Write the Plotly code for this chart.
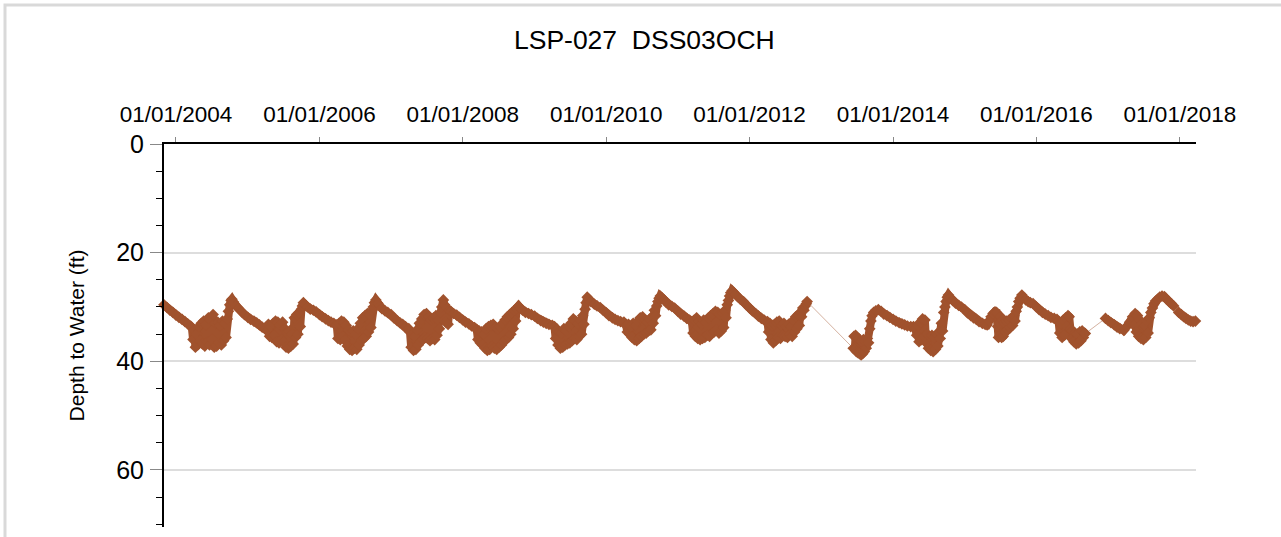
import plotly.graph_objects as go
from datetime import date

# ---------------- data ----------------
# depth to water (ft) by calendar year; dates given as MM-DD inside each year
MD_2003 = ["11-01", "11-16", "12-01", "12-16"]
FT_2003 = [29.6, 30.1, 30.6, 31.0]

MD_2004 = ["01-01", "01-16", "02-01", "02-16", "03-01", "03-16",
           "03-22", "03-28", "04-03", "04-09", "04-15", "04-21", "04-27", "05-03", "05-09", "05-15",
           "05-21", "05-27", "06-02", "06-08", "06-14", "06-20", "06-26", "07-02", "07-08", "07-14",
           "07-20", "07-26", "08-01", "08-07", "08-13", "08-19", "08-25", "08-31", "09-06", "09-12",
           "09-18", "09-24", "10-01", "10-08", "10-12",
           "10-20", "11-01", "11-15", "12-01", "12-15"]
FT_2004 = [31.5, 31.9, 32.3, 32.7, 33.1, 33.5,
           33.8, 36.0, 34.2, 37.4, 35.0, 37.0, 33.6, 36.2, 33.0, 36.8,
           32.6, 37.2, 33.2, 36.4, 32.0, 37.0, 32.4, 36.0, 31.4, 37.4,
           33.0, 37.2, 32.8, 36.6, 33.4, 37.0, 32.6, 36.2, 33.0, 35.6,
           32.2, 30.8, 29.6, 28.8, 28.6,
           29.1, 29.8, 30.3, 30.9, 31.4]

MD_2005 = ["01-01", "01-15", "02-01", "02-15", "03-01", "03-15", "04-01", "04-10",
           "04-16", "04-22", "04-28", "05-04", "05-10", "05-16", "05-22", "05-28", "06-03", "06-09",
           "06-15", "06-21", "06-27", "07-03", "07-09", "07-15", "07-21", "07-27", "08-02", "08-08",
           "08-14", "08-20", "08-26", "09-01", "09-07", "09-13", "09-19", "09-25", "10-01", "10-06",
           "10-11",
           "10-20", "11-01", "11-15", "12-01", "12-15"]
FT_2005 = [31.9, 32.3, 32.6, 32.9, 33.3, 33.7, 34.1, 34.4,
           33.2, 35.4, 33.6, 35.6, 33.0, 35.2, 32.6, 36.4, 32.8, 36.6,
           33.4, 36.0, 32.8, 36.4, 34.0, 37.4, 34.6, 37.6, 34.4, 37.2,
           35.0, 36.8, 32.0, 35.6, 31.4, 35.0, 31.0, 33.6, 30.4, 29.8,
           29.2,
           29.6, 30.0, 30.4, 30.6, 30.9]

MD_2006 = ["01-01", "01-15", "02-01", "02-15", "03-01", "03-15", "03-30",
           "04-05", "04-11", "04-17", "04-23", "04-29", "05-05", "05-11", "05-17", "05-23", "05-29",
           "06-04", "06-10", "06-16", "06-22", "06-28", "07-04", "07-10", "07-16", "07-22", "07-28",
           "08-03", "08-09", "08-15", "08-21", "08-27", "09-02", "09-08", "09-14", "09-20", "09-26",
           "10-02", "10-08", "10-15",
           "10-25", "11-05", "11-15", "12-01", "12-15"]
FT_2006 = [31.4, 31.8, 32.2, 32.5, 32.8, 33.0, 33.3,
           35.8, 33.0, 36.0, 32.6, 35.4, 32.8, 36.2, 33.4, 37.2, 34.2,
           37.8, 34.6, 38.0, 34.4, 37.6, 35.0, 37.8, 34.0, 37.0, 33.0,
           36.2, 32.0, 35.8, 31.6, 35.4, 31.2, 34.6, 31.4, 33.8, 30.6,
           30.0, 29.2, 28.7,
           29.3, 29.8, 30.3, 30.7, 31.0]

MD_2007 = ["01-01", "01-15", "02-01", "02-15", "03-01", "03-15", "04-01",
           "04-07", "04-13", "04-19", "04-25", "05-01", "05-07", "05-13", "05-19", "05-25", "05-31",
           "06-06", "06-12", "06-18", "06-24", "06-30", "07-06", "07-12", "07-18", "07-24", "07-30",
           "08-05", "08-11", "08-17", "08-23", "08-29", "09-04", "09-10", "09-16", "09-24", "09-30",
           "10-06", "10-12", "10-18", "10-24",
           "11-01", "11-15", "12-01", "12-15"]
FT_2007 = [31.4, 32.0, 32.5, 32.9, 33.2, 33.6, 34.0,
           34.6, 37.4, 35.0, 38.0, 35.4, 37.8, 34.2, 37.0, 33.0, 36.4,
           32.2, 36.0, 31.4, 35.6, 31.2, 35.8, 31.8, 36.2, 32.4, 35.8,
           32.0, 36.0, 31.6, 35.2, 32.4, 34.0, 31.0, 30.0, 28.7, 29.6,
           32.8, 30.2, 33.2, 30.6,
           30.8, 31.2, 31.5, 31.9]

MD_2008 = ["01-01", "01-15", "02-01", "02-15", "03-01", "03-12",
           "03-18", "03-24", "03-30", "04-05", "04-11", "04-17", "04-23", "04-29", "05-05", "05-11",
           "05-17", "05-23", "05-29", "06-04", "06-10", "06-16", "06-22", "06-28", "07-04", "07-10",
           "07-16", "07-22", "07-28", "08-03", "08-09", "08-15", "08-21", "08-27", "09-02", "09-08",
           "09-14", "09-20", "09-26", "10-02", "10-11",
           "10-20", "11-01", "11-15", "12-01", "12-15"]
FT_2008 = [32.4, 32.8, 33.1, 33.5, 33.8, 34.1,
           36.0, 34.4, 36.6, 34.6, 37.0, 35.0, 37.6, 34.0, 38.0, 33.6,
           37.8, 33.4, 37.2, 33.2, 37.6, 33.8, 37.8, 34.0, 37.4, 33.6,
           37.0, 33.0, 36.4, 32.4, 36.0, 31.8, 35.6, 31.4, 35.0, 31.0,
           34.0, 30.6, 32.6, 30.2, 29.8,
           30.2, 30.6, 31.0, 31.2, 31.4]

MD_2009 = ["01-01", "01-15", "02-01", "02-15", "03-01", "03-15", "04-01", "04-12",
           "04-18", "04-24", "04-30", "05-06", "05-12", "05-18", "05-24", "05-30", "06-05", "06-11",
           "06-17", "06-23", "06-29", "07-05", "07-11", "07-17", "07-23", "07-29", "08-04", "08-10",
           "08-16", "08-22", "08-28", "09-03", "09-09", "09-15", "09-20", "09-26",
           "10-05", "10-15", "11-01", "11-15", "12-01", "12-15"]
FT_2009 = [31.7, 32.1, 32.5, 32.8, 33.0, 33.2, 33.4, 33.6,
           35.8, 34.2, 37.0, 34.6, 37.6, 34.8, 37.4, 34.0, 37.0, 34.4,
           36.8, 33.6, 36.6, 33.0, 36.2, 32.2, 35.8, 32.6, 36.0, 33.0,
           35.4, 32.4, 35.0, 31.6, 33.2, 30.4, 29.2, 28.2,
           28.6, 29.0, 29.5, 29.8, 30.1, 30.6]

MD_2010 = ["01-01", "01-15", "02-01", "02-15", "03-01", "03-15", "04-01",
           "04-12", "04-18", "04-24", "04-30", "05-06", "05-12", "05-18", "05-24", "05-30", "06-05",
           "06-11", "06-17", "06-23", "06-29", "07-05", "07-11", "07-17", "07-23", "07-29", "08-04",
           "08-10", "08-16", "08-22", "08-28", "09-03", "09-09", "09-15", "09-21", "09-27", "10-03",
           "10-12", "10-22", "11-01", "11-15", "12-01", "12-15"]
FT_2010 = [31.1, 31.6, 32.0, 32.3, 32.5, 32.7, 32.8,
           33.4, 34.6, 33.2, 35.0, 33.6, 35.6, 33.0, 36.0, 33.4, 36.2,
           32.6, 35.8, 32.0, 35.4, 31.8, 35.0, 32.4, 34.8, 32.8, 34.4,
           32.2, 34.2, 31.8, 33.0, 30.6, 31.6, 29.8, 29.0, 28.4, 28.0,
           28.3, 28.7, 29.1, 29.6, 29.9, 30.2]

MD_2011 = ["01-01", "01-15", "02-01", "02-15", "03-01", "03-13",
           "03-19", "03-25", "03-31", "04-06", "04-12", "04-18", "04-24", "04-30", "05-06", "05-12",
           "05-18", "05-24", "05-30", "06-05", "06-11", "06-17", "06-23", "06-29", "07-05", "07-11",
           "07-17", "07-23", "07-29", "08-04", "08-10", "08-16", "08-22", "08-28", "09-03", "09-09",
           "09-15", "09-21", "09-27", "10-04",
           "10-12", "10-22", "11-01", "11-15", "12-01", "12-15"]
FT_2011 = [30.8, 31.3, 31.7, 32.1, 32.4, 32.7,
           34.8, 32.4, 35.4, 32.0, 35.8, 32.6, 36.0, 33.2, 35.8, 32.4,
           35.6, 32.8, 35.2, 32.0, 35.4, 31.6, 34.8, 31.2, 34.6, 30.8,
           34.2, 31.0, 34.8, 31.4, 34.4, 31.2, 33.8, 30.6, 32.0, 29.6,
           28.8, 28.0, 27.4, 27.0,
           27.3, 27.7, 28.1, 28.6, 29.0, 29.6]

MD_2012 = ["01-01", "01-15", "02-01", "02-15", "03-01", "03-15", "04-01",
           "04-07", "04-13", "04-19", "04-25", "05-01", "05-07", "05-13", "05-19", "05-25", "05-31",
           "06-06", "06-12", "06-18", "06-24", "06-30", "07-06", "07-12", "07-18", "07-24", "07-30",
           "08-05", "08-11", "08-17", "08-23", "08-29", "09-04", "09-10", "09-16", "09-22", "09-28",
           "10-04", "10-10", "10-16", "10-20"]
FT_2012 = [30.2, 30.7, 31.2, 31.7, 32.1, 32.4, 32.7,
           34.6, 33.0, 36.0, 33.4, 36.6, 33.2, 36.2, 32.8, 35.6, 32.6,
           35.8, 33.4, 35.2, 33.0, 35.4, 33.6, 35.6, 33.2, 35.0, 33.6,
           35.4, 32.4, 34.6, 31.8, 34.0, 31.4, 33.4, 31.0, 31.8, 30.2,
           30.6, 29.8, 29.4, 29.0]

MD_2013 = ["06-12", "06-16", "06-20", "06-24", "06-28", "07-02", "07-06", "07-10", "07-14", "07-18",
           "07-22", "07-26", "07-30", "08-03", "08-07", "08-11", "08-17", "08-23", "08-29", "09-04",
           "09-10", "09-16", "09-24", "10-05", "10-18", "11-01", "11-15", "12-01", "12-15"]
FT_2013 = [37.6, 35.4, 37.8, 35.2, 38.2, 35.6, 38.4, 35.8, 38.6, 36.2,
           38.8, 36.4, 38.6, 36.0, 38.2, 36.4, 37.6, 35.8, 36.6, 34.0,
           32.6, 31.6, 31.0, 30.7, 30.5, 30.8, 31.3, 31.6, 31.9]

MD_2014 = ["01-01", "01-15", "02-01", "02-15", "03-01", "03-15", "04-01", "04-15",
           "04-25", "05-01", "05-07", "05-13", "05-19", "05-25", "05-31", "06-06", "06-12", "06-18",
           "06-24", "06-30", "07-06", "07-12", "07-18", "07-24", "07-30", "08-05", "08-11", "08-17",
           "08-23", "08-29", "09-04", "09-10", "09-16", "09-22", "09-28", "10-04", "10-10",
           "10-20", "11-01", "11-15", "12-01", "12-15"]
FT_2014 = [32.3, 32.6, 32.9, 33.1, 33.3, 33.5, 33.6, 33.6,
           34.0, 35.2, 33.4, 36.4, 32.8, 36.0, 32.2, 35.4, 32.4, 36.6,
           35.0, 37.6, 35.4, 38.0, 35.2, 38.2, 35.6, 37.8, 35.0, 37.2,
           34.6, 35.8, 33.0, 34.4, 31.0, 30.0, 29.0, 28.2, 27.8,
           28.3, 28.8, 29.3, 29.7, 30.0]

MD_2015 = ["01-01", "01-15", "02-01", "02-15", "03-01", "03-15", "04-01", "04-15", "04-25",
           "05-05", "05-15", "05-25", "06-04", "06-12", "06-18", "06-22", "06-26", "06-30", "07-04",
           "07-08", "07-12", "07-16", "07-22", "07-28", "08-03", "08-09", "08-15", "08-21", "08-27",
           "09-02", "09-08", "09-14", "09-20", "09-26", "10-03", "10-10", "10-19",
           "10-28", "11-08", "11-20", "12-01", "12-15"]
FT_2015 = [30.5, 31.1, 31.6, 32.0, 32.3, 32.7, 33.0, 33.2, 33.3,
           32.6, 31.8, 31.2, 30.9, 31.0, 33.6, 35.6, 33.0, 35.2, 31.8,
           35.6, 32.4, 35.4, 33.0, 34.6, 32.6, 34.2, 32.4, 33.8, 32.0,
           33.4, 31.6, 32.6, 30.8, 30.0, 29.0, 28.4, 27.8,
           28.3, 28.7, 29.0, 29.2, 29.4]

MD_2016 = ["01-01", "01-15", "02-01", "02-15", "03-01", "03-15", "04-01", "04-15",
           "04-23", "04-29", "05-05", "05-11", "05-17", "05-23", "05-29", "06-04", "06-10", "06-16",
           "06-22", "06-28", "07-04", "07-10", "07-16", "07-22", "07-28", "08-03", "08-09", "08-15",
           "08-21", "08-27", "09-02", "09-06",
           "12-18"]
FT_2016 = [30.0, 30.5, 31.0, 31.3, 31.6, 31.9, 32.1, 32.3,
           32.6, 34.8, 33.0, 35.6, 32.4, 35.2, 32.0, 33.6, 31.6, 31.8,
           34.0, 35.8, 34.4, 36.4, 34.8, 36.8, 35.0, 36.6, 34.6, 36.2,
           34.4, 35.6, 34.8, 34.9,
           32.1]

MD_2017 = ["01-01", "01-15", "02-01", "02-15", "03-01", "03-21", "04-05", "04-20", "05-05",
           "05-12", "05-18", "05-24", "05-30", "06-05", "06-11", "06-17", "06-23", "06-29", "07-05",
           "07-11", "07-17", "07-23", "07-29", "08-06", "08-14", "08-22", "08-30", "09-09", "09-20",
           "10-02", "10-14", "10-26", "11-07", "11-18", "11-30", "12-26"]
FT_2017 = [32.5, 32.9, 33.3, 33.7, 34.0, 34.3, 33.6, 32.8, 31.8,
           33.4, 31.2, 34.6, 31.6, 35.4, 32.4, 35.8, 33.0, 36.0, 33.4,
           35.6, 32.6, 34.8, 32.0, 31.0, 30.2, 29.4, 28.9, 28.6, 28.2,
           28.0, 28.1, 28.6, 29.0, 29.4, 29.8, 31.0]

MD_2018 = ["01-08", "01-20", "02-01", "02-13", "02-25", "03-09", "03-21", "03-31"]
FT_2018 = [31.4, 31.8, 32.1, 32.4, 32.6, 32.7, 32.6, 32.5]

YEARS = [2003, 2004, 2005, 2006, 2007, 2008, 2009, 2010,
         2011, 2012, 2013, 2014, 2015, 2016, 2017, 2018]
MD_BY_YEAR = [MD_2003, MD_2004, MD_2005, MD_2006, MD_2007, MD_2008, MD_2009, MD_2010,
              MD_2011, MD_2012, MD_2013, MD_2014, MD_2015, MD_2016, MD_2017, MD_2018]
FT_BY_YEAR = [FT_2003, FT_2004, FT_2005, FT_2006, FT_2007, FT_2008, FT_2009, FT_2010,
              FT_2011, FT_2012, FT_2013, FT_2014, FT_2015, FT_2016, FT_2017, FT_2018]

TITLE = "LSP-027\u00a0 DSS03OCH"
Y_TITLE = "Depth to Water (ft)"
Y_TICKS = [0, 20, 40, 60]
GAP_DAYS = 24          # readings further apart than this are joined by a thin line only

# ---------------- build series ----------------
dates, depth = [], []
for yr, md, ft in zip(YEARS, MD_BY_YEAR, FT_BY_YEAR):
    assert len(md) == len(ft), yr
    dates += [f"{yr}-{m}" for m in md]
    depth += ft

band_x, band_y = [], []
prev = None
for d, v in zip(dates, depth):
    cur = date.fromisoformat(d)
    if prev is not None and (cur - prev).days > GAP_DAYS:
        band_x.append(None)
        band_y.append(None)
    band_x.append(d)
    band_y.append(v)
    prev = cur

COLOR = "#A0522D"
FONT = "Liberation Sans, Arial, sans-serif"

fig = go.Figure()
fig.add_trace(go.Scatter(x=dates, y=depth, mode="lines",
                         line=dict(color="rgba(160,82,45,0.45)", width=1),
                         hoverinfo="skip", showlegend=False))
fig.add_trace(go.Scatter(x=band_x, y=band_y, mode="lines+markers",
                         line=dict(color=COLOR, width=8),
                         marker=dict(symbol="diamond", size=9, color=COLOR),
                         connectgaps=False, cliponaxis=False, showlegend=False))

L, T, R, B = 164, 144, 1196, 527
W, H = 1281, 537
pw, ph = R - L, B - T

fig.update_layout(
    width=W, height=H,
    margin=dict(l=L, r=W - R, t=T, b=H - B),
    paper_bgcolor="white", plot_bgcolor="white",
    font=dict(family=FONT, color="black"),
    title=dict(text=TITLE, x=0.503, xref="container", y=1 - 40 / H, yref="container",
               xanchor="center", yanchor="middle", font=dict(size=26.5, family=FONT, color="black")),
    showlegend=False,
    xaxis=dict(type="date", side="top", range=["2003-11-01", "2018-03-24"],
               tick0="2004-01-01", dtick="M24", tickformat="%m/%d/%Y",
               showline=True, linecolor="black", linewidth=2,
               ticks="outside", ticklen=5, tickwidth=1, tickcolor="#888888",
               ticklabelstandoff=6,
               tickfont=dict(size=22.5, family=FONT, color="black"),
               showgrid=False, zeroline=False),
    yaxis=dict(range=[70.5, 0], tickvals=Y_TICKS,
               showline=True, linecolor="black", linewidth=2,
               ticks="outside", ticklen=12, tickwidth=1, tickcolor="#888888",
               ticklabelstandoff=1,
               tickfont=dict(size=25, family=FONT, color="black"),
               showgrid=True, gridcolor="#dddddd", gridwidth=2, zeroline=False,
               minor=dict(dtick=5, ticks="outside", ticklen=6, tickcolor="black",
                          tickwidth=1, showgrid=False),
               title=dict(text=Y_TITLE, font=dict(size=21, family=FONT, color="black"),
                          standoff=26)),
    shapes=[dict(type="rect", xref="paper", yref="paper",
                 x0=(5 - L) / pw, x1=(W + 20 - L) / pw,
                 y0=-(H + 20 - B) / ph, y1=(B - 5) / ph,
                 line=dict(color="#d9d9d9", width=3), fillcolor="rgba(0,0,0,0)",
                 layer="below")],
)

fig.write_html("out.html", config={"displayModeBar": False},
               post_script="document.body.style.margin='0';document.body.style.overflow='hidden';")
